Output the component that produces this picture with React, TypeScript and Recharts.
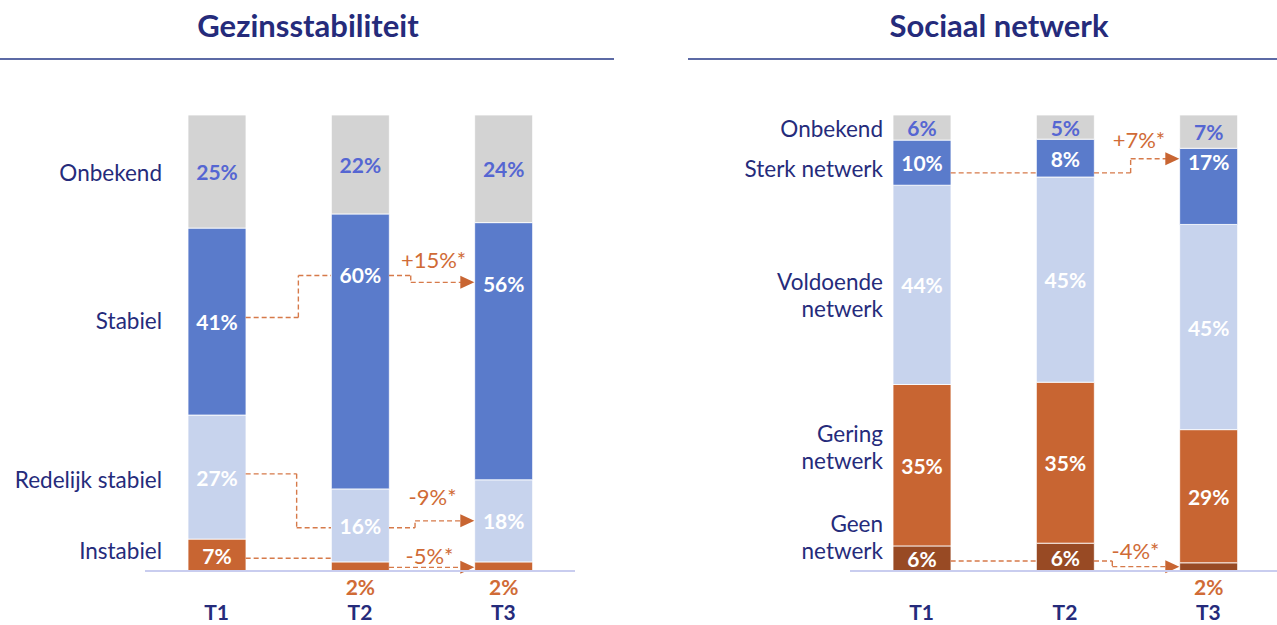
import React from "react";
import { BarChart, Bar, XAxis, YAxis, LabelList, ReferenceLine, ReferenceDot } from "recharts";

const periods = ["T1", "T2", "T3"];

// Gezinsstabiliteit, % per meting (onder -> boven)
const instabiel = [7.0, 2.0, 2.0];
const redelijkStabiel = [27.2, 16.0, 18.0];
const stabiel = [41.0, 60.3, 56.4];
const gezinOnbekend = [24.8, 21.7, 23.6];

// Sociaal netwerk, % per meting (onder -> boven)
const geenNetwerk = [5.5, 6.1, 1.8];
const geringNetwerk = [35.4, 35.3, 29.2];
const voldoendeNetwerk = [43.7, 45.0, 45.0];
const sterkNetwerk = [9.9, 8.3, 16.7];
const netwerkOnbekend = [5.5, 5.3, 7.3];

// category names on the left and the height (%) they sit at
const gezinNames = ["Instabiel", "Redelijk stabiel", "Stabiel", "Onbekend"];
const gezinNameAt = [4.7, 20.2, 55.0, 87.5];
const netwerkNames = ["Geen\nnetwerk", "Gering\nnetwerk", "Voldoende\nnetwerk", "Sterk netwerk", "Onbekend"];
const netwerkNameAt = [7.5, 27.2, 60.7, 88.4, 97.1];

// significant changes T2 -> T3
const gezinChanges = ["+15%*", "-9%*", "-5%*"];
const netwerkChanges = ["+7%*", "-4%*"];

const FONT = "Lato, 'Open Sans', sans-serif";
const NAVY = "#252b7b";
const GREY = "#d3d3d3";
const BLUE = "#5a7bcb";
const LIGHT = "#c7d3ed";
const ORANGE = "#c86532";
const BROWN = "#984a24";
const LINE_ORANGE = "#d67a4a";
const TEXT_ORANGE = "#d06b36";
const LABEL_BLUE = "#5566d2";

const W = 640;
const H = 625;
const BAR = 58;
const PLOT_W = 430;
const HALF = BAR / 2 / (PLOT_W / 3);
const R = (i: number) => i + HALF;
const L = (i: number) => i - HALF;

type Path = { pts: [number, number][]; arrow?: boolean };

const gezinPaths: Path[] = [
  { pts: [[R(0), 55.6], [0.57, 55.6], [0.57, 64.8], [L(1), 64.8]] },
  { pts: [[R(1), 64.8], [1.354, 64.8], [1.354, 63.3], [L(2), 63.3]], arrow: true },
  { pts: [[R(0), 21.3], [0.558, 21.3], [0.558, 9.5], [L(1), 9.5]] },
  { pts: [[R(1), 9.5], [1.384, 9.5], [1.384, 11.0], [L(2), 11.0]], arrow: true },
  { pts: [[R(0), 2.8], [L(1), 2.8]] },
  { pts: [[R(1), 0.8], [L(2), 0.8]], arrow: true },
];
const gezinChangeAt: [number, number][] = [[1.513, 68.4], [1.506, 16.4], [1.485, 3.5]];

const netwerkPaths: Path[] = [
  { pts: [[R(0), 87.3], [L(1), 87.3]] },
  { pts: [[R(1), 87.3], [1.458, 87.3], [1.458, 90.4], [L(2), 90.4]], arrow: true },
  { pts: [[R(0), 2.2], [L(1), 2.2]] },
  { pts: [[R(1), 2.2], [1.33, 2.2], [1.33, 0.95], [L(2), 0.95]], arrow: true },
];
const netwerkChangeAt: [number, number][] = [[1.516, 94.7], [1.492, 4.5]];

const valueFont = { fontFamily: FONT, fontSize: 21, fontWeight: 700 };

// value label inside a segment; thin segments get their label under the axis
const valueLabel = (values: number[], color: string, lift: (number | null)[] = []) => (p: any) => {
  const { x, y, width, height, index } = p;
  const v = values[index];
  const top = Math.min(Number(y), Number(y) + Number(height));
  const h = Math.abs(Number(height));
  const cx = Number(x) + Number(width) / 2;
  const text = `${Math.round(v)}%`;
  if (v < 3) {
    return (
      <text x={cx} y={top + h + 15} textAnchor="middle" dominantBaseline="central" fill={TEXT_ORANGE} style={valueFont}>
        {text}
      </text>
    );
  }
  const f = lift[index] ?? 0.5;
  return (
    <text x={cx} y={top + h - h * f} textAnchor="middle" dominantBaseline="central" fill={color} style={valueFont}>
      {text}
    </text>
  );
};

const nameTick = (names: string[], at: number[], dx: number) => (p: any) => {
  const { x, y, payload, index } = p;
  let i = at.indexOf(payload?.value);
  if (i < 0) i = index;
  const lines = (names[i] ?? "").split("\n");
  const lh = 27;
  const x0 = Number(x) + dx;
  return (
    <text x={x0} y={Number(y) - ((lines.length - 1) * lh) / 2} textAnchor="end" dominantBaseline="central" fill={NAVY} fontFamily={FONT} fontSize={22.5}>
      {lines.map((t, k) => (
        <tspan key={k} x={x0} dy={k === 0 ? 0 : lh}>
          {t}
        </tspan>
      ))}
    </text>
  );
};

const arrowShape = (p: any) => {
  const x1 = Number(p.x1), y1 = Number(p.y1), x2 = Number(p.x2), y2 = Number(p.y2);
  return (
    <g>
      <line x1={x1} y1={y1} x2={x2 - 11} y2={y2} stroke={LINE_ORANGE} strokeWidth={1.4} strokeDasharray="5 3" />
      <polygon points={`${x2},${y2} ${x2 - 14},${y2 - 6.5} ${x2 - 14},${y2 + 6.5}`} fill={ORANGE} />
    </g>
  );
};

function connectors(paths: Path[], key: string) {
  const out: React.ReactNode[] = [];
  paths.forEach((path, pi) => {
    for (let k = 0; k < path.pts.length - 1; k++) {
      const a = path.pts[k];
      const b = path.pts[k + 1];
      const last = k === path.pts.length - 2;
      out.push(
        <ReferenceLine
          key={`${key}-${pi}-${k}`}
          segment={[{ x: a[0], y: a[1] }, { x: b[0], y: b[1] }]}
          stroke={LINE_ORANGE}
          strokeWidth={1.4}
          strokeDasharray="5 3"
          ifOverflow="visible"
          shape={path.arrow && last ? arrowShape : undefined}
        />
      );
    }
  });
  return out;
}

function changeLabels(texts: string[], at: [number, number][], key: string) {
  return texts.map((t, i) => (
    <ReferenceDot
      key={`${key}-c${i}`}
      x={at[i][0]}
      y={at[i][1]}
      r={1}
      ifOverflow="visible"
      shape={(p: any) => (
        <text x={p.cx} y={p.cy} textAnchor="middle" dominantBaseline="central" fill={TEXT_ORANGE} fontFamily={FONT} fontSize={22}>
          {t}
        </text>
      )}
    />
  ));
}

const xAxis = (
  <XAxis
    type="number"
    dataKey="x"
    domain={[-0.5, 2.5]}
    ticks={periods.map((_, i) => i)}
    interval={0}
    allowDataOverflow
    height={54}
    axisLine={{ stroke: "#c9cdef", strokeWidth: 2 }}
    tickLine={false}
    tickSize={0}
    tickMargin={34}
    tick={{ fill: NAVY, fontSize: 21, fontWeight: 700, fontFamily: FONT }}
    tickFormatter={(v: number) => periods[v] ?? ""}
  />
);

const gezinRows = periods.map((p, i) => ({
  x: i,
  period: p,
  instabiel: instabiel[i],
  redelijk: redelijkStabiel[i],
  stabiel: stabiel[i],
  onbekend: gezinOnbekend[i],
}));

const netwerkRows = periods.map((p, i) => ({
  x: i,
  period: p,
  geen: geenNetwerk[i],
  gering: geringNetwerk[i],
  voldoende: voldoendeNetwerk[i],
  sterk: sterkNetwerk[i],
  onbekend: netwerkOnbekend[i],
}));

const barProps = { stackId: "s", barSize: BAR, stroke: "#ffffff", strokeWidth: 0.8, isAnimationActive: false };

function GezinChart() {
  return (
    <BarChart width={W} height={H} data={gezinRows} margin={{ top: 115, right: 65, bottom: 0, left: 0 }}>
      {xAxis}
      <YAxis
        type="number"
        domain={[0, 100]}
        ticks={gezinNameAt}
        interval={0}
        width={145}
        axisLine={false}
        tickLine={false}
        tickSize={0}
        tickMargin={0}
        tick={nameTick(gezinNames, gezinNameAt, 17)}
      />
      <Bar dataKey="instabiel" fill={ORANGE} {...barProps}>
        <LabelList dataKey="instabiel" content={valueLabel(instabiel, "#ffffff")} />
      </Bar>
      <Bar dataKey="redelijk" fill={LIGHT} {...barProps}>
        <LabelList dataKey="redelijk" content={valueLabel(redelijkStabiel, "#ffffff")} />
      </Bar>
      <Bar dataKey="stabiel" fill={BLUE} {...barProps}>
        <LabelList dataKey="stabiel" content={valueLabel(stabiel, "#ffffff", [null, 0.78, 0.764])} />
      </Bar>
      <Bar dataKey="onbekend" fill={GREY} {...barProps}>
        <LabelList dataKey="onbekend" content={valueLabel(gezinOnbekend, LABEL_BLUE)} />
      </Bar>
      {connectors(gezinPaths, "g")}
      {changeLabels(gezinChanges, gezinChangeAt, "g")}
    </BarChart>
  );
}

function NetwerkChart() {
  return (
    <BarChart width={643} height={H} data={netwerkRows} margin={{ top: 115, right: 0, bottom: 0, left: 0 }}>
      {xAxis}
      <YAxis
        type="number"
        domain={[0, 100]}
        ticks={netwerkNameAt}
        interval={0}
        width={213}
        axisLine={false}
        tickLine={false}
        tickSize={0}
        tickMargin={0}
        tick={nameTick(netwerkNames, netwerkNameAt, 33)}
      />
      <Bar dataKey="geen" fill={BROWN} {...barProps}>
        <LabelList dataKey="geen" content={valueLabel(geenNetwerk, "#ffffff")} />
      </Bar>
      <Bar dataKey="gering" fill={ORANGE} {...barProps}>
        <LabelList dataKey="gering" content={valueLabel(geringNetwerk, "#ffffff")} />
      </Bar>
      <Bar dataKey="voldoende" fill={LIGHT} {...barProps}>
        <LabelList dataKey="voldoende" content={valueLabel(voldoendeNetwerk, "#ffffff")} />
      </Bar>
      <Bar dataKey="sterk" fill={BLUE} {...barProps}>
        <LabelList dataKey="sterk" content={valueLabel(sterkNetwerk, "#ffffff", [null, null, 0.83])} />
      </Bar>
      <Bar dataKey="onbekend" fill={GREY} {...barProps}>
        <LabelList dataKey="onbekend" content={valueLabel(netwerkOnbekend, LABEL_BLUE)} />
      </Bar>
      {connectors(netwerkPaths, "n")}
      {changeLabels(netwerkChanges, netwerkChangeAt, "n")}
    </BarChart>
  );
}

const titleStyle: React.CSSProperties = {
  position: "absolute",
  top: 5,
  height: 40,
  lineHeight: "40px",
  textAlign: "center",
  fontFamily: FONT,
  fontWeight: 700,
  fontSize: 31,
  color: NAVY,
};

export default function App() {
  return (
    <div style={{ position: "absolute", left: 0, top: 0, width: 1277, height: 625, overflow: "hidden", background: "#fff" }}>
      <div style={{ position: "absolute", left: 0, top: 0 }}>
        <GezinChart />
      </div>
      <div style={{ position: "absolute", left: 637, top: 0 }}>
        <NetwerkChart />
      </div>
      <div style={{ ...titleStyle, left: 0, width: 616 }}>Gezinsstabiliteit</div>
      <div style={{ position: "absolute", left: 0, top: 58, width: 614, height: 2, background: "#5c6aa5" }} />
      <div style={{ ...titleStyle, left: 720, width: 558 }}>Sociaal netwerk</div>
      <div style={{ position: "absolute", left: 688, top: 58, width: 589, height: 2, background: "#5c6aa5" }} />
    </div>
  );
}
